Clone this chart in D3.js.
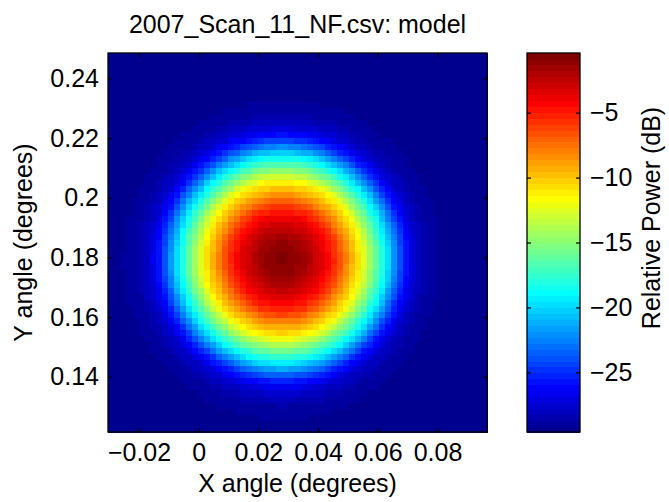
<!DOCTYPE html>
<html>
<head>
<meta charset="utf-8">
<script src="https://cdn.jsdelivr.net/npm/d3@7"></script>
<style>
  html, body { margin: 0; padding: 0; background: #fff; }
  svg { display: block; }
  text { font-family: "Liberation Sans", Arial, Helvetica, sans-serif; fill: #000; }
</style>
</head>
<body>
<svg id="chart" width="669" height="502"></svg>
<script>
// ---------------- data ----------------
const titleText = "2007_Scan_11_NF.csv: model";
const xLabelText = "X angle (degrees)";
const yLabelText = "Y angle (degrees)";
const cbarLabelText = "Relative Power (dB)";

const xLimits = [-0.0304, 0.0966];
const yLimits = [0.1215, 0.2485];
const gridCount = 63;                 // model cells per side

const beamCenter = [0.028, 0.1795];   // beam peak (deg)
// radial profile of the modelled beam
const profileRadius = [0, 0.007, 0.0134, 0.0184, 0.0218, 0.0261, 0.0301, 0.0341, 0.0375, 0.0408, 0.0445, 0.0490, 0.0560, 0.12];
const profileDb     = [-0.5, -1.5, -3.5, -6.0, -8.5, -11.3, -15.0, -18.6, -22.0, -25.3, -27.6, -28.7, -29.4, -29.6];

const colorLimits = [-29.6, -0.4];

const xTicks = [-0.02, 0, 0.02, 0.04, 0.06, 0.08];
const xTickLabels = ["\u22120.02", "0", "0.02", "0.04", "0.06", "0.08"];
const yTicks = [0.14, 0.16, 0.18, 0.2, 0.22, 0.24];
const yTickLabels = ["0.14", "0.16", "0.18", "0.2", "0.22", "0.24"];
const cbarTicks = [-25, -20, -15, -10, -5];
const cbarTickLabels = ["\u221225", "\u221220", "\u221215", "\u221210", "\u22125"];

// ---------------- layout ----------------
const plot = { left: 108, right: 487, top: 53, bottom: 432 };
const cbar = { left: 527, right: 580 };
const fontSize = 25;
const tickLen = 4;

// MATLAB jet colormap
function jet(m) {
  const n = Math.ceil(m / 4);
  const u = [];
  for (let i = 1; i <= n; i++) u.push(i / n);
  for (let i = 0; i < n - 1; i++) u.push(1);
  for (let i = n; i >= 1; i--) u.push(i / n);
  const g0 = Math.ceil(n / 2) - (m % 4 === 1 ? 1 : 0);
  const J = Array.from({ length: m }, () => [0, 0, 0]);
  u.forEach((v, k) => {
    const g = g0 + k + 1, r = g + n, b = g - n;
    if (r <= m) J[r - 1][0] = v;
    if (g <= m) J[g - 1][1] = v;
    if (b >= 1) J[b - 1][2] = v;
  });
  return J.map(c => d3.rgb(c[0] * 255, c[1] * 255, c[2] * 255).formatHex());
}
const jet64 = jet(64);

const svg = d3.select("#chart");

const x = d3.scaleLinear().domain(xLimits).range([plot.left, plot.right]);
const y = d3.scaleLinear().domain(yLimits).range([plot.bottom, plot.top]);
const color = d3.scaleQuantize().domain(colorLimits).range(jet64);
const profile = d3.scaleLinear().domain(profileRadius).range(profileDb).clamp(true);

// grid cells
const dx = (xLimits[1] - xLimits[0]) / gridCount;
const dy = (yLimits[1] - yLimits[0]) / gridCount;
const cells = [];
for (let j = 0; j < gridCount; j++) {
  for (let i = 0; i < gridCount; i++) {
    const cx = xLimits[0] + (i + 0.5) * dx;
    const cy = yLimits[0] + (j + 0.5) * dy;
    const r = Math.hypot(cx - beamCenter[0], cy - beamCenter[1]);
    cells.push({ x0: xLimits[0] + i * dx, y0: yLimits[0] + j * dy, v: profile(r) });
  }
}

svg.append("g").selectAll("rect").data(cells).join("rect")
  .attr("x", d => x(d.x0))
  .attr("y", d => y(d.y0 + dy))
  .attr("width", d => x(d.x0 + dx) - x(d.x0) + 0.6)
  .attr("height", d => y(d.y0) - y(d.y0 + dy) + 0.6)
  .attr("fill", d => color(d.v))
  .attr("shape-rendering", "crispEdges");

// axes (ticks inward on all sides)
function styleAxis(g) {
  g.select(".domain").remove();
  g.selectAll(".tick line").attr("stroke", "#000").attr("stroke-width", 1.2);
  g.selectAll(".tick text").attr("font-size", fontSize).attr("font-family", "Liberation Sans, Arial, sans-serif").attr("fill", "#000");
}
svg.append("g").attr("transform", `translate(0,${plot.bottom})`)
  .call(d3.axisBottom(x).tickValues(xTicks).tickFormat((d, i) => xTickLabels[i]).tickSize(-tickLen).tickPadding(11))
  .call(styleAxis);
svg.append("g").attr("transform", `translate(0,${plot.top})`)
  .call(d3.axisTop(x).tickValues(xTicks).tickFormat("").tickSize(-tickLen))
  .call(styleAxis);
svg.append("g").attr("transform", `translate(${plot.left},0)`)
  .call(d3.axisLeft(y).tickValues(yTicks).tickFormat((d, i) => yTickLabels[i]).tickSize(-tickLen).tickPadding(9))
  .call(styleAxis);
svg.append("g").attr("transform", `translate(${plot.right},0)`)
  .call(d3.axisRight(y).tickValues(yTicks).tickFormat("").tickSize(-tickLen))
  .call(styleAxis);

svg.append("rect")
  .attr("x", plot.left).attr("y", plot.top)
  .attr("width", plot.right - plot.left).attr("height", plot.bottom - plot.top)
  .attr("fill", "none").attr("stroke", "#000").attr("stroke-width", 1.3);

// colorbar
const cb = d3.scaleLinear().domain(colorLimits).range([plot.bottom, plot.top]);
const bandStep = (colorLimits[1] - colorLimits[0]) / jet64.length;
svg.append("g").selectAll("rect").data(jet64).join("rect")
  .attr("x", cbar.left)
  .attr("y", (d, i) => cb(colorLimits[0] + (i + 1) * bandStep))
  .attr("width", cbar.right - cbar.left)
  .attr("height", (d, i) => cb(colorLimits[0] + i * bandStep) - cb(colorLimits[0] + (i + 1) * bandStep) + 0.6)
  .attr("fill", d => d)
  .attr("shape-rendering", "crispEdges");

svg.append("g").attr("transform", `translate(${cbar.right},0)`)
  .call(d3.axisRight(cb).tickValues(cbarTicks).tickFormat((d, i) => cbarTickLabels[i]).tickSize(-tickLen).tickPadding(10))
  .call(styleAxis);
svg.append("g").attr("transform", `translate(${cbar.left},0)`)
  .call(d3.axisLeft(cb).tickValues(cbarTicks).tickFormat("").tickSize(-tickLen))
  .call(styleAxis);
svg.append("rect")
  .attr("x", cbar.left).attr("y", plot.top)
  .attr("width", cbar.right - cbar.left).attr("height", plot.bottom - plot.top)
  .attr("fill", "none").attr("stroke", "#000").attr("stroke-width", 1.3);

// labels
svg.append("text")
  .attr("x", (plot.left + plot.right) / 2).attr("y", 33)
  .attr("text-anchor", "middle").attr("font-size", fontSize)
  .text(titleText);
svg.append("text")
  .attr("x", (plot.left + plot.right) / 2).attr("y", 492)
  .attr("text-anchor", "middle").attr("font-size", fontSize)
  .text(xLabelText);
svg.append("text")
  .attr("transform", `translate(32,${(plot.top + plot.bottom) / 2}) rotate(-90)`)
  .attr("text-anchor", "middle").attr("font-size", fontSize)
  .text(yLabelText);
svg.append("text")
  .attr("transform", `translate(660,218) rotate(-90)`)
  .attr("text-anchor", "middle").attr("font-size", fontSize)
  .text(cbarLabelText);
</script>
</body>
</html>
